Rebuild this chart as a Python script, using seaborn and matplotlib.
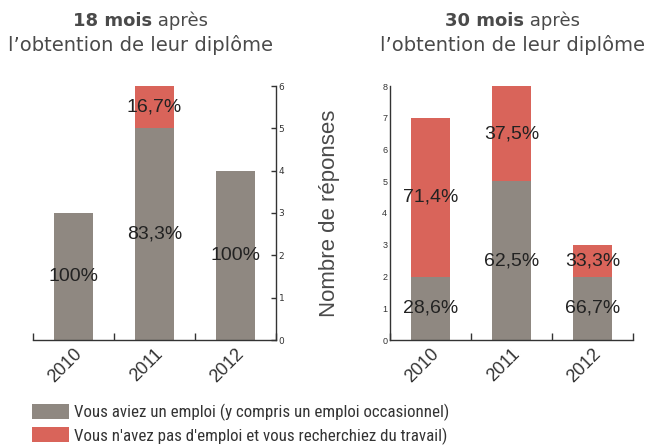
import numpy as np
import pandas as pd
import seaborn as sns
import matplotlib.pyplot as plt
from matplotlib import font_manager
from matplotlib.patches import Patch
from matplotlib.ticker import FixedLocator

# ---- data ----
years = ['2010', '2011', '2012']
emploi_18 = [3, 5, 4]
sans_emploi_18 = [0, 1, 0]
emploi_30 = [2, 5, 2]
sans_emploi_30 = [5, 3, 1]
legend_labels = ["Vous aviez un emploi (y compris un emploi occasionnel)",
                 "Vous n'avez pas d'emploi et vous recherchiez du travail)"]
ylabel = "Nombre de réponses"

GRAY = '#8f8881'
RED = '#d9645a'
DARK = '#333333'
TITLE_C = '#4a4a4a'

sns.set_style('white')
plt.rcParams['font.family'] = ['DejaVu Sans']

installed = {f.name for f in font_manager.fontManager.ttflist}
narrow = 'Lato'
for cand in ['DejaVu Sans Condensed', 'Liberation Sans Narrow', 'Roboto Condensed',
             'Open Sans Condensed', 'Lato']:
    if cand in installed:
        narrow = cand
        break

W, H = 649, 446
fig = plt.figure(figsize=(W / 100, H / 100), dpi=100)
ax1 = fig.add_axes([33 / W, 106 / H, 243 / W, 254 / H])
ax2 = fig.add_axes([390 / W, 106 / H, 243 / W, 254 / H])


def pct(v, t):
    p = 100 * v / t
    if abs(p - 100) < 1e-9:
        return '100%'
    return f'{p:.1f}%'.replace('.', ',')


NUMF = ['Liberation Sans', 'DejaVu Sans']


def draw(ax, emp, sans, ymax):
    total = [e + s for e, s in zip(emp, sans)]
    df = pd.DataFrame({'year': years, 'emploi': emp, 'total': total})
    sns.barplot(data=df, x='year', y='total', color=RED, width=0.48,
                saturation=1, linewidth=0, ax=ax)
    sns.barplot(data=df, x='year', y='emploi', color=GRAY, width=0.48,
                saturation=1, linewidth=0, ax=ax)
    for i, (e, s) in enumerate(zip(emp, sans)):
        t = e + s
        ax.text(i, e / 2, pct(e, t), ha='center', va='center', fontsize=14,
                color='#222222', family=NUMF)
        if s > 0:
            ax.text(i, e + s / 2, pct(s, t), ha='center', va='center', fontsize=14,
                    color='#222222', family=NUMF)
    ax.set_xlim(-0.5, 2.5)
    ax.set_ylim(0, ymax)
    ax.set_yticks(range(0, ymax + 1))
    ax.set_xlabel('')
    ax.set_ylabel('')
    ax.xaxis.set_minor_locator(FixedLocator([-0.5, 0.5, 1.5, 2.5]))
    ax.tick_params(axis='x', which='major', length=0, pad=4, labelsize=13,
                   labelcolor=DARK)
    ax.tick_params(axis='x', which='minor', length=5, width=1, direction='in',
                   color=DARK, bottom=True)
    ax.tick_params(axis='y', which='major', length=3.5, width=1, direction='in',
                   color=DARK, labelsize=6.5, labelcolor=DARK, pad=2)
    for lab in ax.get_xticklabels():
        lab.set_rotation(45)
        lab.set_ha('right')
        lab.set_va('top')
        lab.set_rotation_mode('anchor')
        lab.set_family(NUMF)
    for lab in ax.get_yticklabels():
        lab.set_family(NUMF)
    for sp in ax.spines.values():
        sp.set_color(DARK)
        sp.set_linewidth(1)
    ax.spines['top'].set_visible(False)


draw(ax1, emploi_18, sans_emploi_18, 6)
draw(ax2, emploi_30, sans_emploi_30, 8)

ax1.spines['left'].set_visible(False)
ax1.yaxis.tick_right()
ax1.tick_params(axis='y', which='major', length=3.5, width=1, direction='in',
                color=DARK, labelsize=6.5, labelcolor=DARK, pad=2)
ax2.spines['right'].set_visible(False)

ax2.set_ylabel(ylabel, fontsize=16, color=TITLE_C, family=NUMF)
ax2.yaxis.set_label_coords(-50 / 243, 0.5)


def title(xsplit, xcenter, bold, rest):
    fig.text(xsplit / W, 1 - 21 / H, bold, ha='right', va='center', fontsize=13,
             fontweight='bold', color=TITLE_C)
    fig.text(xsplit / W, 1 - 21 / H, ' ' + rest, ha='left', va='center',
             fontsize=13, color=TITLE_C)
    fig.text(xcenter / W, 1 - 45 / H, "l\u2019obtention de leur diplôme",
             ha='center', va='center', fontsize=14, color=TITLE_C)


title(152, 140, '18 mois', 'après')
title(524, 513, '30 mois', 'après')

handles = [Patch(facecolor=GRAY, edgecolor='none'),
           Patch(facecolor=RED, edgecolor='none')]


def make_legend(fs):
    return fig.legend(handles, legend_labels, loc='upper left',
                      bbox_to_anchor=(32 / W, 1 - 404 / H), frameon=False,
                      fontsize=fs, handlelength=37 / (fs * 100 / 72),
                      handleheight=17 / (fs * 100 / 72),
                      handletextpad=5 / (fs * 100 / 72),
                      labelspacing=6 / (fs * 100 / 72), borderpad=0,
                      borderaxespad=0, labelcolor=DARK,
                      prop={'family': [narrow, 'DejaVu Sans'], 'size': fs})


fs = 12
leg = make_legend(fs)
fig.canvas.draw()
r = fig.canvas.get_renderer()
w = leg.get_texts()[0].get_window_extent(r).width
fs = max(10.5, min(12.5, fs * 375 / w))
leg.remove()
leg = make_legend(fs)

fig.savefig('out.png', dpi=100)
